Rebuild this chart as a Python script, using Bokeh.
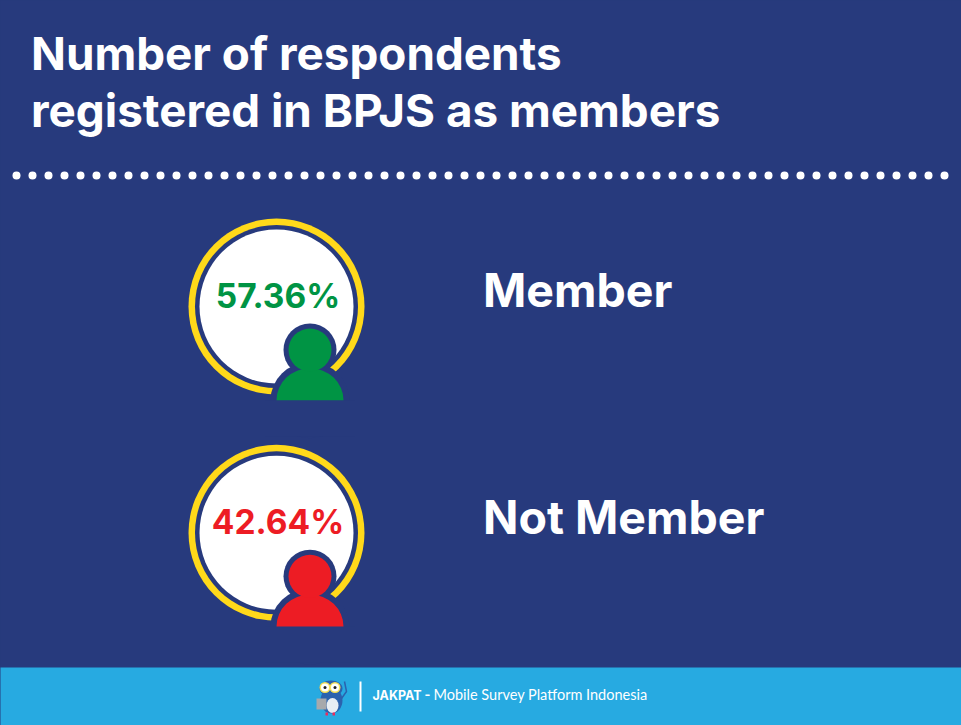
from bokeh.plotting import figure
from bokeh.embed import file_html
from bokeh.resources import INLINE
from bokeh.core.properties import value
from bokeh.models import Range1d

title_lines = ["Number of respondents", "registered in BPJS as members"]
categories = ["Member", "Not Member"]
shares = [57.36, 42.64]
share_colors = ["#009444", "#ED1C24"]
footer_bold = "JAKPAT -"
footer_text = "Mobile Survey Platform Indonesia"

NAVY = "#273A7D"
SKY = "#27AAE1"
YELLOW = "#FFD91A"
OWL = "#2B62AE"
FONT = "Inter"

W, H = 961, 725
p = figure(width=W, height=H, output_backend="svg", toolbar_location=None,
           x_range=Range1d(0, W), y_range=Range1d(H, 0),
           min_border=0, background_fill_color=NAVY, border_fill_color=NAVY)
p.axis.visible = False
p.grid.visible = False
p.outline_line_color = None
p.styles = {"position": "fixed", "left": "0", "top": "0", "background-color": NAVY}


def label(x, y, s, size, color=None, style="bold", align="left", font=FONT):
    # the renderer sets alphabetic text about 0.42 em too low, so lift it
    p.text([x], [y - 0.42 * size], text=[s], text_font=value(font),
           text_font_size=f"{size}px", text_font_style=style,
           text_color=color or "white", text_align=align,
           text_baseline="alphabetic")


# footer band
p.quad(left=-2, right=W + 2, top=667, bottom=H + 2, fill_color=SKY, line_color=None)

# title
label(30.5, 72, title_lines[0], 45.8)
label(30.5, 129, title_lines[1], 45.8)

# dotted rule
p.scatter(x=[16 + 16 * i for i in range(59)], y=[175] * 59, size=8,
          marker="circle", fill_color="white", line_color=None)

# rows
cx, cy0, dy = 276, 306, 226.3
for i, (cat, val, col) in enumerate(zip(categories, shares, share_colors)):
    cy = cy0 + i * dy
    p.circle([cx], [cy], radius=88, fill_color=YELLOW, line_color=None)
    p.circle([cx], [cy], radius=81.5, fill_color=NAVY, line_color=None)
    p.circle([cx], [cy], radius=77, fill_color="white", line_color=None)
    label(cx + 1.5, cy + 3.5, f"{val:.2f}%", 33.5, col, align="center")
    label(482.5, cy + 3.5, cat, 46.5)
    # person icon
    hx, hy = cx + 33.5, cy + 43.5
    by = cy + 93.7
    p.ellipse([hx], [by], width=79, height=76, fill_color=NAVY, line_color=None)
    p.circle([hx], [hy], radius=26.5, fill_color=NAVY, line_color=None)
    p.ellipse([hx], [by], width=67, height=64, fill_color=col, line_color=None)
    p.quad(left=hx - 45, right=hx + 45, top=by, bottom=by + 36,
           fill_color=NAVY, line_color=None)
    p.circle([hx], [hy], radius=21.5, fill_color=col, line_color=None)

# footer: owl mark
p.line([360, 360], [681, 711], line_color="white", line_width=2)
p.ellipse([331], [700], width=22, height=26, fill_color=OWL, line_color=None)
p.ellipse([330.5], [688], width=23, height=16, fill_color=OWL, line_color=None)
p.ellipse([332], [705], width=12, height=15, fill_color="#E8EEF4", line_color=None)
p.quad(left=316, right=326, top=698, bottom=709, fill_color="#A7A9AC", line_color=None)
p.circle([324.5, 334.5], [687, 687], radius=5.5, fill_color="#F5E15A", line_color=None)
p.circle([324.5, 334.5], [687, 687], radius=4, fill_color="white", line_color=None)
p.circle([324.5, 334.5], [687, 687], radius=1.5, fill_color="#222222", line_color=None)
p.line([341, 346, 344], [698, 691, 681], line_color=OWL, line_width=1.5)
p.quad(left=[325, 332], right=[327.5, 334.5], top=[712, 712], bottom=[715, 715],
       fill_color="#EE2A5B", line_color=None)

label(372, 700, footer_bold, 12.5)
label(433, 700, footer_text, 14.5, style="normal", font="Lato")

open("out.html", "w").write(file_html(p, INLINE))
